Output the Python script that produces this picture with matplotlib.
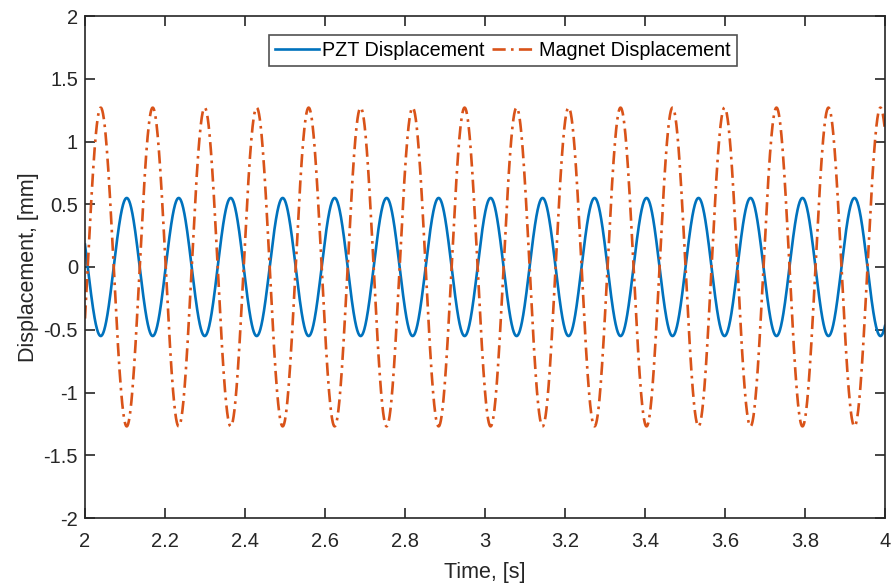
import numpy as np
import matplotlib.pyplot as plt
from matplotlib.ticker import FormatStrFormatter

# values (steady-state sinusoids)
series_names = ['PZT Displacement', 'Magnet Displacement']
amplitudes = [0.55, 1.27]          # mm
peak_times = [2.1043, 2.0393]      # first crest of each curve, s
frequency = 7.695                  # Hz, same for both
x_ticks = [2, 2.2, 2.4, 2.6, 2.8, 3, 3.2, 3.4, 3.6, 3.8, 4]
y_ticks = [-2, -1.5, -1, -0.5, 0, 0.5, 1, 1.5, 2]

t = np.linspace(2, 4, 4001)
pzt = amplitudes[0] * np.cos(2 * np.pi * frequency * (t - peak_times[0]))
magnet = amplitudes[1] * np.cos(2 * np.pi * frequency * (t - peak_times[1]))

plt.rcParams['font.family'] = ['Liberation Sans', 'DejaVu Sans']
dark = '#262626'

fig = plt.figure(figsize=(8.91, 5.83), dpi=100)
ax = fig.add_axes([85 / 891, 1 - 518 / 583, 800 / 891, 502 / 583])

ax.plot(t, pzt, color='#0072BD', lw=1.9, label=series_names[0])
ax.plot(t, magnet, color='#D95319', lw=1.9, linestyle=(0, (5, 2, 1, 2)),
        label=series_names[1])

ax.set_xlim(2, 4)
ax.set_ylim(-2, 2)
ax.set_xticks(x_ticks)
ax.set_yticks(y_ticks)
ax.xaxis.set_major_formatter(FormatStrFormatter('%g'))
ax.yaxis.set_major_formatter(FormatStrFormatter('%g'))
ax.tick_params(direction='in', top=True, right=True, length=7, width=1.2,
               labelsize=14.5, colors=dark)
ax.tick_params(axis='x', pad=10)
ax.tick_params(axis='y', pad=5)
for s in ax.spines.values():
    s.set_color(dark)
    s.set_linewidth(1.2)

ax.set_xlabel('Time, [s]', fontsize=15.5, color=dark, labelpad=8)
ax.set_ylabel('Displacement, [mm]', fontsize=15.5, color=dark, labelpad=3)

leg = ax.legend(loc='upper center', bbox_to_anchor=(503 / 891, 1 - 35 / 583),
                bbox_transform=fig.transFigure, ncol=2, fontsize=14.2,
                frameon=True, fancybox=False, handlelength=2.2,
                handletextpad=0.2, columnspacing=0.35, borderpad=0.3,
                borderaxespad=0)
leg.get_frame().set_edgecolor(dark)
leg.get_frame().set_linewidth(1.2)

fig.savefig('out.png', dpi=100)
